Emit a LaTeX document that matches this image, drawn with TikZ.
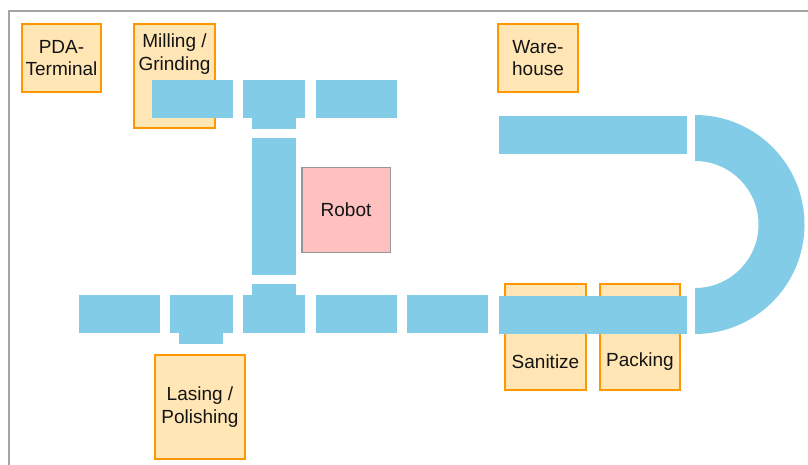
\documentclass[tikz,border=0pt]{standalone}
\usepackage{fontspec}
\setmainfont{Liberation Sans}
\definecolor{beltblue}{RGB}{130,204,232}
\definecolor{stationedge}{RGB}{255,152,0}
\definecolor{stationfill}{RGB}{255,230,180}
\definecolor{robotfill}{RGB}{255,192,192}
\definecolor{robotedge}{RGB}{150,150,150}
\definecolor{framegray}{RGB}{165,165,165}
\tikzset{
  station/.style={draw=stationedge, fill=stationfill, line width=2.2pt, inner sep=0pt,
    align=center, font=\fontsize{19}{22.5}\selectfont, text=black!92},
  robotbox/.style={draw=robotedge, fill=robotfill, line width=1.5pt, inner sep=0pt,
    font=\fontsize{19}{22.5}\selectfont, text=black!92},
  label/.style={inner sep=0pt, align=center, font=\fontsize{19}{22.5}\selectfont, text=black!92},
  belt/.style={fill=beltblue},
}
\begin{document}
\begin{tikzpicture}[x=1pt,y=-1pt]
\useasboundingbox (0,0) rectangle (808,465);
% outer frame
\draw[framegray, line width=1.5pt] (9,465) -- (9,11) -- (808,11);

% stations
\node[station, minimum width=79pt, minimum height=68pt] (pda) at (61.5,58) {PDA-\\Terminal};
\node[station, minimum width=81pt, minimum height=104pt] (mill) at (174.5,76) {};
\node[label] (milltxt) at (174.5,54) {Milling /\\Grinding};
\node[station, minimum width=80pt, minimum height=68pt] (ware) at (538,58) {Ware-\\house};
\node[station, minimum width=90pt, minimum height=104pt] (laser) at (200,407) {Lasing /\\Polishing};
\node[station, minimum width=81pt, minimum height=106pt] (sanit) at (545.5,337) {};
\node[station, minimum width=80pt, minimum height=106pt] (pack) at (640,337) {};
\node[robotbox, minimum width=88.5pt, minimum height=84.5pt] (robot) at (346,210) {Robot};

% upper conveyor
\fill[belt] (152,80) rectangle (233,118);
\fill[belt] (243,80) rectangle (305,118);
\fill[belt] (252,118) rectangle (296,129);
\fill[belt] (316,80) rectangle (397,118);
% vertical conveyor
\fill[belt] (252,138) rectangle (296,275);
% lower conveyor
\fill[belt] (79,295) rectangle (160,333);
\fill[belt] (170,295) rectangle (233,333);
\fill[belt] (179,333) rectangle (223,344);
\fill[belt] (243,295) rectangle (305,333);
\fill[belt] (252,284) rectangle (296,295);
\fill[belt] (316,295) rectangle (397,333);
\fill[belt] (407,295) rectangle (488,333);
\fill[belt] (499,296) rectangle (687,334);
% return conveyor with curve
\fill[belt] (499,116) rectangle (687,154);
\fill[belt] (695,115) arc (-90:90:109.5) -- (695,288) arc (90:-90:63.5) -- cycle;

% station texts drawn over the belt
\node[label] (sanittxt) at (545.5,362) {Sanitize};
\node[label] (packtxt) at (640,362) {Packing};
\end{tikzpicture}
\end{document}
